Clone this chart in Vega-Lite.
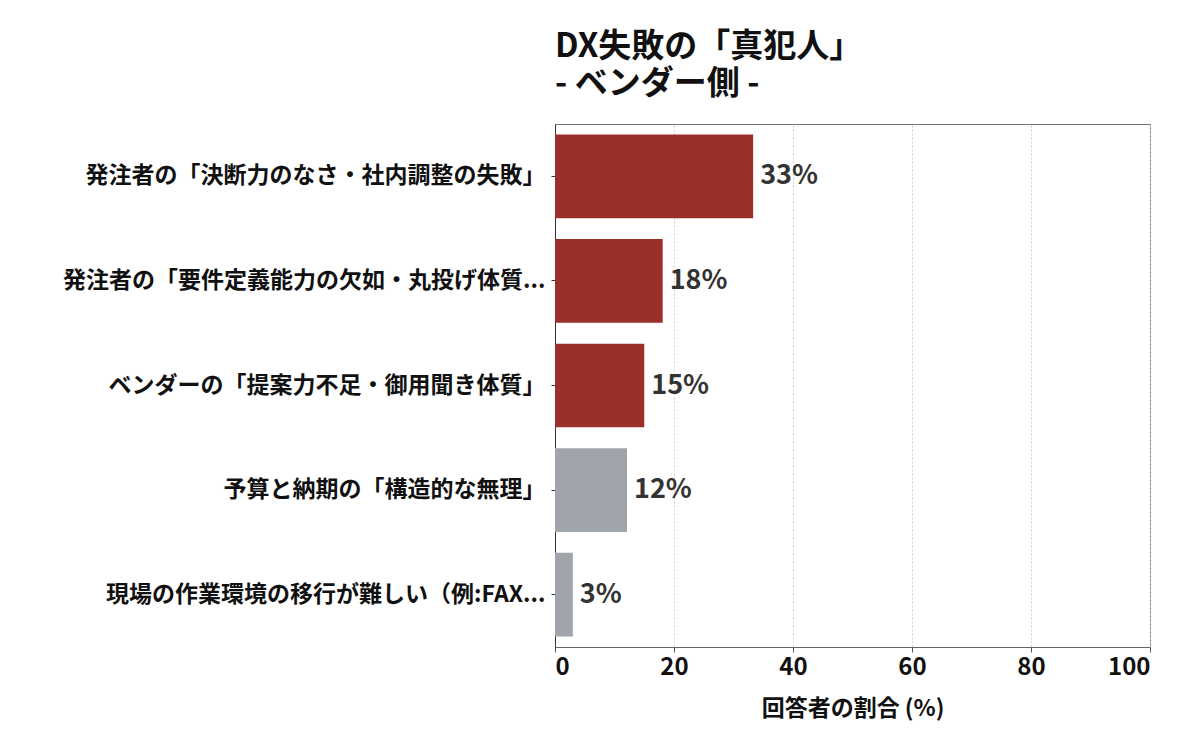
{
  "$schema": "https://vega.github.io/schema/vega-lite/v6.json",
  "autosize": {"type": "none"},
  "padding": {"left": 555, "top": 124, "right": 50, "bottom": 103},
  "width": 595,
  "height": 523,
  "background": "white",
  "title": {
    "text": "DX失敗の「真犯人」",
    "subtitle": "- ベンダー側 -",
    "anchor": "start",
    "frame": "group",
    "font": "Noto Sans CJK JP",
    "fontSize": 33,
    "fontWeight": "bold",
    "color": "#111",
    "subtitleFont": "Noto Sans CJK JP",
    "subtitleFontSize": 33,
    "subtitleFontWeight": "bold",
    "subtitleColor": "#111",
    "subtitlePadding": 4,
    "offset": 23
  },
  "data": {
    "values": [
      {"cause": "発注者の「決断力のなさ・社内調整の失敗」", "value": 33.3, "label": "33%", "side": "main"},
      {"cause": "発注者の「要件定義能力の欠如・丸投げ体質...", "value": 18.1, "label": "18%", "side": "main"},
      {"cause": "ベンダーの「提案力不足・御用聞き体質」", "value": 15.0, "label": "15%", "side": "main"},
      {"cause": "予算と納期の「構造的な無理」", "value": 12.1, "label": "12%", "side": "other"},
      {"cause": "現場の作業環境の移行が難しい（例:FAX...", "value": 3.0, "label": "3%", "side": "other"}
    ]
  },
  "config": {
    "view": {"stroke": "#777", "strokeWidth": 1},
    "font": "Noto Sans CJK JP"
  },
  "encoding": {
    "y": {
      "field": "cause",
      "type": "nominal",
      "sort": null,
      "title": null,
      "scale": {"paddingInner": 0.2, "paddingOuter": 0.1},
      "axis": {
        "labelFont": "Noto Sans CJK JP",
        "labelFontSize": 23,
        "labelFontWeight": "bold",
        "labelColor": "#111",
        "labelLimit": 600,
        "labelPadding": 6,
        "tickSize": 4,
        "tickColor": "#333",
        "domainColor": "#333",
        "grid": false
      }
    },
    "x": {
      "field": "value",
      "type": "quantitative",
      "scale": {"domain": [0, 100]},
      "title": "回答者の割合 (%)",
      "axis": {
        "values": [0, 20, 40, 60, 80, 100],
        "labelFont": "Noto Sans CJK JP",
        "labelFontSize": 24,
        "labelFontWeight": "bold",
        "labelColor": "#111",
        "labelPadding": 3,
        "tickSize": 5,
        "tickColor": "#555",
        "domainColor": "#666",
        "grid": true,
        "gridColor": "#ccc",
        "gridDash": [2, 2],
        "titleFont": "Noto Sans CJK JP",
        "titleFontSize": 23,
        "titleFontWeight": "bold",
        "titleColor": "#111",
        "titlePadding": 18
      }
    }
  },
  "layer": [
    {
      "mark": {"type": "bar", "opacity": 1},
      "encoding": {
        "color": {
          "field": "side",
          "type": "nominal",
          "scale": {"domain": ["main", "other"], "range": ["#9B2F2A", "#A0A5AC"]},
          "legend": null
        }
      }
    },
    {
      "mark": {
        "type": "text",
        "align": "left",
        "baseline": "middle",
        "dx": 7,
        "font": "Noto Sans CJK JP",
        "fontSize": 27,
        "fontWeight": "bold",
        "color": "#333"
      },
      "encoding": {"text": {"field": "label"}}
    }
  ]
}
